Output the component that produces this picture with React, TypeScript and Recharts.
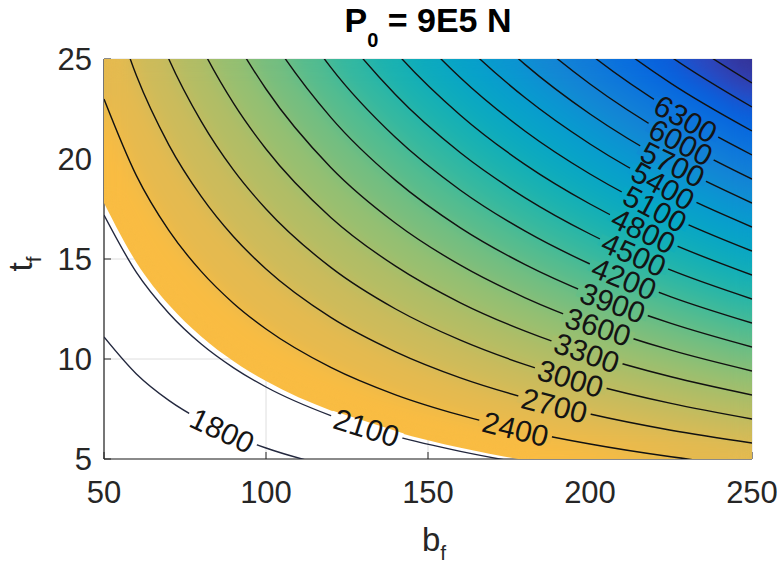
import React from 'react';
import { ComposedChart, Line, Area, Scatter, XAxis, YAxis, CartesianGrid } from 'recharts';

const FONT = "'Liberation Sans', Arial, Helvetica, sans-serif";
const INK = '#262626';
const W = 777;
const H = 565;
const PLOT_MARGIN = { top: 59, right: 25, bottom: 106, left: 104 };

// flange width b_f at which each contour's t_f is listed
const bfGrid = [50, 60, 70, 80, 90, 100, 120, 140, 160, 180, 200, 225, 250];
const xTicks = [50, 100, 150, 200, 250];
const yTicks = [5, 10, 15, 20, 25];

// lower edge of the admissible (shaded) region and the level found along it
const tfEdge = [17.8, 14.83, 12.71, 11.13, 9.89, 8.9, 7.42, 6.36, 5.56, 4.94, 4.45, 3.96, 3.56];
const shadedFrom = 2140;

// contour lines: t_f along bfGrid for each level
const tf1800 = [11.1, 9.25, 7.93, 6.94, 6.17, 5.55, 4.63, 3.96, 3.47, 3.08, 2.78, 2.47, 2.22];
const tf2100 = [17.2, 14.33, 12.29, 10.75, 9.56, 8.6, 7.17, 6.14, 5.38, 4.78, 4.3, 3.82, 3.44];
const tf2400 = [23.0, 19.17, 16.43, 14.38, 12.78, 11.5, 9.58, 8.21, 7.19, 6.39, 5.75, 5.11, 4.6];
const tf2700 = [29.0, 24.17, 20.71, 18.13, 16.11, 14.5, 12.08, 10.36, 9.06, 8.06, 7.25, 6.44, 5.8];
const tf3000 = [35.0, 29.17, 25.0, 21.88, 19.44, 17.5, 14.58, 12.5, 10.94, 9.72, 8.75, 7.78, 7.0];
const tf3300 = [41.0, 34.17, 29.29, 25.63, 22.78, 20.5, 17.08, 14.64, 12.81, 11.39, 10.25, 9.11, 8.2];
const tf3600 = [47.0, 39.17, 33.57, 29.38, 26.11, 23.5, 19.58, 16.79, 14.69, 13.06, 11.75, 10.44, 9.4];
const tf3900 = [53.0, 44.17, 37.86, 33.13, 29.44, 26.5, 22.08, 18.93, 16.56, 14.72, 13.25, 11.78, 10.6];
const tf4200 = [59.0, 49.17, 42.14, 36.88, 32.78, 29.5, 24.58, 21.07, 18.44, 16.39, 14.75, 13.11, 11.8];
const tf4500 = [65.0, 54.17, 46.43, 40.63, 36.11, 32.5, 27.08, 23.21, 20.31, 18.06, 16.25, 14.44, 13.0];
const tf4800 = [71.0, 59.17, 50.71, 44.38, 39.44, 35.5, 29.58, 25.36, 22.19, 19.72, 17.75, 15.78, 14.2];
const tf5100 = [77.0, 64.17, 55.0, 48.13, 42.78, 38.5, 32.08, 27.5, 24.06, 21.39, 19.25, 17.11, 15.4];
const tf5400 = [83.0, 69.17, 59.29, 51.88, 46.11, 41.5, 34.58, 29.64, 25.94, 23.06, 20.75, 18.44, 16.6];
const tf5700 = [89.0, 74.17, 63.57, 55.63, 49.44, 44.5, 37.08, 31.79, 27.81, 24.72, 22.25, 19.78, 17.8];
const tf6000 = [95.0, 79.17, 67.86, 59.38, 52.78, 47.5, 39.58, 33.93, 29.69, 26.39, 23.75, 21.11, 19.0];
const tf6300 = [101.0, 84.17, 72.14, 63.13, 56.11, 50.5, 42.08, 36.07, 31.56, 28.06, 25.25, 22.44, 20.2];
const tf6600 = [107.0, 89.17, 76.43, 66.88, 59.44, 53.5, 44.58, 38.21, 33.44, 29.72, 26.75, 23.78, 21.4];
const tf6900 = [113.0, 94.17, 80.71, 70.63, 62.78, 56.5, 47.08, 40.36, 35.31, 31.39, 28.25, 25.11, 22.6];
const tf7200 = [119.0, 99.17, 85.0, 74.38, 66.11, 59.5, 49.58, 42.5, 37.19, 33.06, 29.75, 26.44, 23.8];

const contourLevels = [1800, 2100, 2400, 2700, 3000, 3300, 3600, 3900, 4200, 4500, 4800, 5100, 5400, 5700, 6000, 6300, 6600, 6900, 7200];
const contourTf = [tf1800, tf2100, tf2400, tf2700, tf3000, tf3300, tf3600, tf3900, tf4200, tf4500, tf4800, tf5100, tf5400, tf5700, tf6000, tf6300, tf6600, tf6900, tf7200];

// inline contour labels: level and where it sits on its contour
const labelLevels = [1800, 2100, 2400, 2700, 3000, 3300, 3600, 3900, 4200, 4500, 4800, 5100, 5400, 5700, 6000, 6300];
const labelBf = [86.5, 131, 177, 189, 194, 199, 202.5, 207, 210.5, 213.5, 216.5, 220, 222.5, 225.5, 228, 229.5];
const labelTf = [6.42, 6.56, 6.5, 7.67, 9.02, 10.3, 11.6, 12.8, 14.01, 15.22, 16.4, 17.5, 18.65, 19.73, 20.83, 22.0];

// colour limits of the field (high values at the blue end)
const colorLimits = [1200, 7500];

// parula colour map, sampled every fourth entry
const PARULA: number[][] = [
  [0.2081, 0.1663, 0.5292], [0.1959, 0.2645, 0.7279], [0.0117, 0.3875, 0.882], [0.0498, 0.4586, 0.8641],
  [0.0793, 0.52, 0.8312], [0.0343, 0.5966, 0.8199], [0.0228, 0.6535, 0.7768], [0.0843, 0.6928, 0.7062],
  [0.2178, 0.725, 0.6193], [0.3953, 0.7459, 0.5244], [0.5709, 0.7485, 0.4494], [0.7184, 0.7411, 0.3905],
  [0.8507, 0.7299, 0.336], [0.9739, 0.7314, 0.2666], [0.988, 0.8066, 0.1794], [0.9589, 0.8949, 0.1132],
  [0.9763, 0.9831, 0.0538],
];
const PARULA_POS = [0, 4, 8, 12, 16, 20, 24, 28, 32, 36, 40, 44, 48, 52, 56, 60, 63].map((i) => i / 63);

function levelColor(f: number): string {
  const s = Math.min(1, Math.max(0, (colorLimits[1] - f) / (colorLimits[1] - colorLimits[0])));
  let k = 0;
  while (k < PARULA_POS.length - 2 && s > PARULA_POS[k + 1]) k++;
  const u = (s - PARULA_POS[k]) / (PARULA_POS[k + 1] - PARULA_POS[k]);
  const c = PARULA[k].map((v, j) => Math.round(255 * (v + (PARULA[k + 1][j] - v) * u)));
  return `rgb(${c[0]},${c[1]},${c[2]})`;
}

const rows = bfGrid.map((b, i) => {
  const r: Record<string, number> = { bf: b, edge: tfEdge[i] };
  contourLevels.forEach((L, j) => {
    r['c' + L] = contourTf[j][i];
  });
  return r;
});

// filled bands, painted from the lowest level upwards
const bands = [
  { key: 'edge', color: levelColor((shadedFrom + 2400) / 2) },
  ...contourLevels
    .filter((L) => L >= 2400)
    .map((L) => ({ key: 'c' + L, color: levelColor(L + 150) })),
];

const plotW = W - PLOT_MARGIN.left - PLOT_MARGIN.right;
const plotH = H - PLOT_MARGIN.top - PLOT_MARGIN.bottom;
const pxPerB = plotW / 200;
const pxPerT = plotH / 20;

const labelRows = labelLevels.map((L, i) => {
  const tf = contourTf[contourLevels.indexOf(L)];
  const b = labelBf[i];
  let k = 0;
  while (k < bfGrid.length - 2 && b > bfGrid[k + 1]) k++;
  const slope = (tf[k + 1] - tf[k]) / (bfGrid[k + 1] - bfGrid[k]);
  const angle = (Math.atan((-slope * pxPerT) / pxPerB) * 180) / Math.PI;
  return {
    bf: b,
    tf: labelTf[i],
    text: String(L),
    angle,
    bg: L < shadedFrom ? '#ffffff' : levelColor(L),
  };
});

const layer: React.CSSProperties = { position: 'absolute', left: 0, top: 0, width: W, height: H };

const ContourLabel = (props: any) => {
  const { cx, cy } = props;
  const p = props.payload ?? props;
  if (cx == null || cy == null) return null;
  const fs = 30;
  const w = fs * 2.22 + 8;
  return (
    <g transform={`translate(${cx},${cy}) rotate(${p.angle})`}>
      <rect x={-w / 2} y={-6} width={w} height={12} fill={p.bg} />
      <text
        x={0}
        y={0}
        textAnchor="middle"
        dominantBaseline="central"
        fontSize={fs}
        fontFamily={FONT}
        fill="#141414"
      >
        {p.text}
      </text>
    </g>
  );
};

const hiddenAxes = [
  <XAxis key="x" type="number" dataKey="bf" domain={[50, 250]} allowDataOverflow hide />,
  <YAxis key="y" type="number" domain={[5, 25]} allowDataOverflow hide />,
];

export default function App() {
  return (
    <div style={{ position: 'absolute', left: 0, top: 0, width: W, height: H, background: '#fff' }}>
      <svg width={0} height={0} style={{ position: 'absolute' }}>
        <defs>
          <filter id="field-smooth" colorInterpolationFilters="sRGB">
            <feGaussianBlur in="SourceGraphic" stdDeviation="10" result="blur" />
            <feComponentTransfer in="blur" result="solid">
              <feFuncA type="linear" slope="60" intercept="0" />
            </feComponentTransfer>
            <feComposite in="solid" in2="SourceGraphic" operator="in" />
          </filter>
        </defs>
      </svg>

      {/* grid and axes, underneath the field */}
      <div style={layer}>
        <ComposedChart
          width={W}
          height={H}
          data={rows}
          margin={{ top: PLOT_MARGIN.top, right: PLOT_MARGIN.right, bottom: PLOT_MARGIN.bottom - 50, left: PLOT_MARGIN.left - 70 }}
        >
          <CartesianGrid stroke="#dedede" strokeWidth={1} />
          <XAxis
            type="number"
            dataKey="bf"
            domain={[50, 250]}
            ticks={xTicks}
            interval={0}
            allowDataOverflow
            height={50}
            tickSize={-7}
            tickMargin={29}
            axisLine={{ stroke: INK, strokeWidth: 1.2 }}
            tickLine={{ stroke: INK }}
            tick={{ fill: INK, fontSize: 31, fontFamily: FONT }}
          />
          <YAxis
            type="number"
            domain={[5, 25]}
            ticks={yTicks}
            interval={0}
            allowDataOverflow
            width={70}
            tickSize={-7}
            tickMargin={19}
            axisLine={{ stroke: INK, strokeWidth: 1.2 }}
            tickLine={{ stroke: INK }}
            tick={{ fill: INK, fontSize: 31, fontFamily: FONT }}
          />
          <Line dataKey="c1800" stroke="none" dot={false} activeDot={false} isAnimationActive={false} />
        </ComposedChart>
      </div>

      {/* shaded field */}
      <div style={{ ...layer, filter: 'url(#field-smooth)' }}>
        <ComposedChart width={W} height={H} data={rows} margin={PLOT_MARGIN}>
          {hiddenAxes}
          {bands.map((b) => (
            <Area
              key={b.key}
              dataKey={b.key}
              type="monotone"
              baseValue="dataMax"
              stroke="none"
              fill={b.color}
              fillOpacity={1}
              dot={false}
              activeDot={false}
              isAnimationActive={false}
            />
          ))}
        </ComposedChart>
      </div>

      {/* contour lines */}
      <div style={layer}>
        <ComposedChart width={W} height={H} data={rows} margin={PLOT_MARGIN}>
          {hiddenAxes}
          {contourLevels.map((L) => (
            <Line
              key={L}
              dataKey={'c' + L}
              type="monotone"
              stroke={L < shadedFrom ? '#23283e' : '#111111'}
              strokeWidth={1.4}
              dot={false}
              activeDot={false}
              isAnimationActive={false}
            />
          ))}
        </ComposedChart>
      </div>

      {/* contour labels */}
      <div style={layer}>
        <ComposedChart width={W} height={H} data={rows} margin={PLOT_MARGIN}>
          {hiddenAxes}
          <Scatter data={labelRows} dataKey="tf" shape={ContourLabel} isAnimationActive={false} />
        </ComposedChart>
      </div>

      {/* title and axis labels */}
      <svg style={layer} width={W} height={H}>
        <text x={428} y={32} textAnchor="middle" fontFamily={FONT} fontWeight="bold" fontSize={34} fill="#000">
          P
          <tspan fontSize={20} dy={15}>0</tspan>
          <tspan dy={-15}>{' = 9E5 N'}</tspan>
        </text>
        <text x={434} y={551} textAnchor="middle" fontFamily={FONT} fontSize={33} fill={INK}>
          b<tspan fontSize={21} dy={9}>f</tspan>
        </text>
        <text transform="translate(32,264) rotate(-90)" textAnchor="middle" fontFamily={FONT} fontSize={33} fill={INK}>
          t<tspan fontSize={21} dy={9}>f</tspan>
        </text>
      </svg>
    </div>
  );
}
